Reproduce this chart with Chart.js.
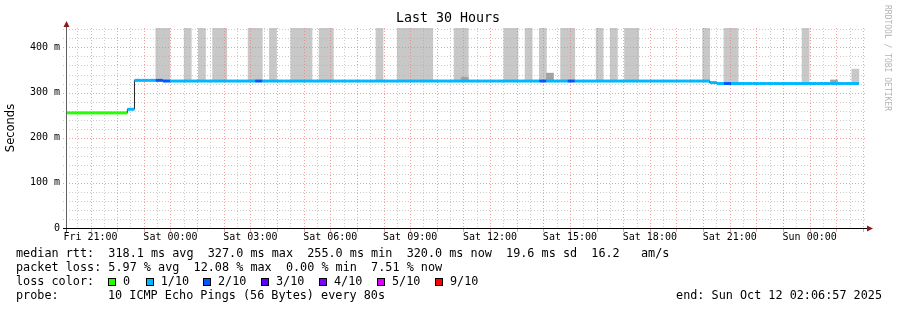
<!DOCTYPE html>
<html>
<head>
<meta charset="utf-8">
<title>Last 30 Hours</title>
<script src="https://cdn.jsdelivr.net/npm/chart.js@4.4.0/dist/chart.umd.min.js"></script>
<style>
  html, body { margin: 0; padding: 0; background: #fff; }
</style>
</head>
<body>
<canvas id="myChart" width="897" height="310"></canvas>
<script>
// x axis is in hours counted from Fri 00:00
const axisStart = 20 + 6 / 60 + 57 / 3600;   // Fri 20:06:57
const axisEnd = axisStart + 30;               // Sun 02:06:57
const binStart = 19.982;                      // first 16 min bin
const binHours = 16 / 60;

const labelHours = [21, 24, 27, 30, 33, 36, 39, 42, 45, 48];
const labelTexts = ['Fri 21:00', 'Sat 00:00', 'Sat 03:00', 'Sat 06:00', 'Sat 09:00',
                    'Sat 12:00', 'Sat 15:00', 'Sat 18:00', 'Sat 21:00', 'Sun 00:00'];

const yTicks = [0, 100, 200, 300, 400];
const yTickLabels = ['0', '100 m', '200 m', '300 m', '400 m'];

// median rtt per bin (ms)
const median = [
  255, 255, 255, 255, 255, 255, 255, 255, 255, 263, 327, 327, 327, 327, 325.5, 325.5,
  325.5, 325.5, 325.5, 325.5, 325.5, 325.5, 325.5, 325.5, 325.5, 325.5, 325.5, 325.5, 325.5, 325.5, 325.5, 325.5,
  325.5, 325.5, 325.5, 325.5, 325.5, 325.5, 325.5, 325.5, 325.5, 325.5, 325.5, 325.5, 325.5, 325.5, 325.5, 325.5,
  325.5, 325.5, 325.5, 325.5, 325.5, 325.5, 325.5, 325.5, 325.5, 325.5, 325.5, 325.5, 325.5, 325.5, 325.5, 325.5,
  325.5, 325.5, 325.5, 325.5, 325.5, 325.5, 325.5, 325.5, 325.5, 325.5, 325.5, 325.5, 325.5, 325.5, 325.5, 325.5,
  325.5, 325.5, 325.5, 325.5, 325.5, 325.5, 325.5, 325.5, 325.5, 325.5, 325.5, 322, 320, 320, 320, 320,
  320, 320, 320, 320, 320, 320, 320, 320, 320, 320, 320, 320, 320, 320, 320, 320
];

// lost pings (out of 10) per bin
const loss = [
  0, 0, 0, 0, 0, 0, 0, 0, 0, 1, 1, 1, 1, 2, 2, 1,
  1, 1, 1, 1, 1, 1, 1, 1, 1, 1, 1, 2, 1, 1, 1, 1,
  1, 1, 1, 1, 1, 1, 1, 1, 1, 1, 1, 1, 1, 1, 1, 1,
  1, 1, 1, 1, 1, 1, 1, 1, 1, 1, 1, 1, 1, 1, 1, 1,
  1, 1, 1, 2, 1, 1, 1, 2, 1, 1, 1, 1, 1, 1, 1, 1,
  1, 1, 1, 1, 1, 1, 1, 1, 1, 1, 1, 1, 1, 2, 1, 1,
  1, 1, 1, 1, 1, 1, 1, 1, 1, 1, 1, 1, 1, 1, 1, 1
];

// top of the light smoke per bin (ms), null = none
const smokeHigh = [
  null, null, null, null, null, null, null, null, null, null, null, null, null, 600, 600, null,
  null, 600, null, 600, null, 600, 600, null, null, null, 600, 600, null, 600, null, null,
  600, 600, 600, null, 600, 600, null, null, null, null, null, null, 600, null, null, 600,
  600, 600, 600, 600, null, null, null, 600, 600, null, null, null, null, null, 600, 600,
  null, 600, null, 600, null, null, 600, 600, null, null, null, 600, null, 600, null, 600,
  600, null, null, null, null, null, null, null, null, null, 600, null, null, 600, 600, null,
  null, null, null, null, null, null, null, null, 600, null, null, null, null, null, null, 352
];

// top of the dark smoke per bin (ms)
const smokeLow = [
  null, null, null, null, null, null, null, null, null, null, null, null, null, null, null, null,
  null, null, null, null, null, null, null, null, null, null, null, null, null, null, null, null,
  null, null, null, null, null, null, null, null, null, null, null, null, null, null, null, null,
  null, null, null, null, null, null, null, null, 334, null, null, null, null, null, null, null,
  null, null, null, null, 343, null, null, null, null, null, null, null, null, null, null, null,
  null, null, null, null, null, null, null, null, null, null, null, null, null, null, null, null,
  null, null, null, null, null, null, null, null, null, null, null, null, 328, null, null, null
];

const lossColors = ['#26ff00', '#00b8ff', '#0059ff', '#5e00ff', '#7e00ff',
                    '#dd00ff', '#dd00ff', '#dd00ff', '#dd00ff', '#ff0000', '#ff0000'];
const legendLabels = ['0', '1/10', '2/10', '3/10', '4/10', '5/10', '9/10'];
const legendColors = ['#26ff00', '#00b8ff', '#0059ff', '#5e00ff', '#7e00ff', '#dd00ff', '#ff0000'];

const majorGrid = 'rgba(240, 120, 120, 0.7)';
const minorGrid = 'rgba(170, 170, 170, 0.6)';
const mono = '"DejaVu Sans Mono", monospace';

// build chart data from the arrays
const lineData = [];
median.forEach(function (v, k) {
  lineData.push({ x: binStart + k * binHours, y: v });
  lineData.push({ x: binStart + (k + 1) * binHours, y: v });
});
const smokeHighData = median.map(function (v, k) {
  return { x: binStart + (k + 0.5) * binHours, y: smokeHigh[k] === null ? null : [v, smokeHigh[k]] };
});
const smokeLowData = median.map(function (v, k) {
  return { x: binStart + (k + 0.5) * binHours, y: smokeLow[k] === null ? null : [v, smokeLow[k]] };
});

let gridDone = false;
const rrdGrid = {
  id: 'rrdGrid',
  beforeDraw() { gridDone = false; },
  beforeDatasetDraw(chart, args) {
    if (gridDone || chart.data.datasets[args.index].type !== 'line') return;
    gridDone = true;
    const { ctx, chartArea: a, scales: { x, y } } = chart;
    ctx.save();
    ctx.lineWidth = 1;
    ctx.setLineDash([1, 2]);
    [false, true].forEach(function (major) {
      ctx.strokeStyle = major ? majorGrid : minorGrid;
      for (let v = 20; v < y.max; v += 20) {
        if ((v % 100 === 0) !== major) continue;
        const py = Math.round(y.getPixelForValue(v)) + 0.5;
        ctx.beginPath(); ctx.moveTo(a.left - 4, py); ctx.lineTo(a.right, py); ctx.stroke();
      }
      for (let h = Math.ceil(x.min * 2) / 2; h < x.max; h += 0.5) {
        if ((h % 1 === 0) !== major) continue;
        const px = Math.round(x.getPixelForValue(h)) + 0.5;
        ctx.beginPath(); ctx.moveTo(px, a.top); ctx.lineTo(px, a.bottom); ctx.stroke();
      }
    });
    // red hour ticks under the axis
    ctx.setLineDash([]);
    ctx.strokeStyle = majorGrid;
    for (let h = Math.ceil(x.min); h < x.max; h += 1) {
      const px = Math.round(x.getPixelForValue(h)) + 0.5;
      ctx.beginPath(); ctx.moveTo(px, a.bottom + 1); ctx.lineTo(px, a.bottom + 4); ctx.stroke();
    }
    ctx.restore();
  }
};

const rrdFrame = {
  id: 'rrdFrame',
  afterDatasetsDraw(chart) {
    const { ctx, chartArea: a } = chart;
    ctx.save();
    ctx.lineWidth = 1;
    // y axis
    ctx.strokeStyle = '#606060';
    ctx.beginPath(); ctx.moveTo(a.left - 0.5, a.bottom + 4); ctx.lineTo(a.left - 0.5, a.top - 3); ctx.stroke();
    // x axis
    ctx.strokeStyle = '#000';
    ctx.beginPath(); ctx.moveTo(a.left - 4, a.bottom + 0.5); ctx.lineTo(a.right + 2, a.bottom + 0.5); ctx.stroke();
    ctx.fillStyle = '#8b1a1a';
    ctx.beginPath();
    ctx.moveTo(a.left - 3.5, a.top - 1); ctx.lineTo(a.left - 0.5, a.top - 7); ctx.lineTo(a.left + 2.5, a.top - 1);
    ctx.closePath(); ctx.fill();
    ctx.beginPath();
    ctx.moveTo(a.right + 1, a.bottom - 2.5); ctx.lineTo(a.right + 7, a.bottom + 0.5); ctx.lineTo(a.right + 1, a.bottom + 3.5);
    ctx.closePath(); ctx.fill();
    ctx.restore();
  },
  afterDraw(chart) {
    const ctx = chart.ctx;
    ctx.save();
    ctx.fillStyle = '#000';
    ctx.textBaseline = 'middle';
    ctx.textAlign = 'center';
    ctx.font = '13.3px ' + mono;
    ctx.fillText('Last 30 Hours', 448, 19);

    ctx.textAlign = 'left';
    ctx.font = '11.8px ' + mono;
    ctx.fillText('median rtt:  318.1 ms avg  327.0 ms max  255.0 ms min  320.0 ms now  19.6 ms sd  16.2   am/s', 16, 254);
    ctx.fillText('packet loss: 5.97 % avg  12.08 % max  0.00 % min  7.51 % now', 16, 268);
    ctx.fillText('loss color:', 16, 282);
    const labelX = [123, 160.7, 218, 276, 334, 392, 450];
    legendLabels.forEach(function (t, i) {
      const bx = Math.round(labelX[i] - 15);
      ctx.fillStyle = legendColors[i];
      ctx.fillRect(bx, 278, 8, 8);
      ctx.strokeStyle = '#000';
      ctx.lineWidth = 1;
      ctx.strokeRect(bx + 0.5, 278.5, 7, 7);
      ctx.fillStyle = '#000';
      ctx.fillText(t, labelX[i], 282);
    });
    ctx.fillText('probe:', 16, 296);
    ctx.fillText('10 ICMP Echo Pings (56 Bytes) every 80s', 108, 296);
    ctx.textAlign = 'right';
    ctx.fillText('end: Sun Oct 12 02:06:57 2025', 882, 296);

    // watermark
    ctx.translate(887, 5);
    ctx.rotate(Math.PI / 2);
    ctx.textAlign = 'left';
    ctx.fillStyle = '#b4b4b4';
    ctx.font = '8px ' + mono;
    ctx.fillText('RRDTOOL / TOBI OETIKER', 0, 0);
    ctx.restore();
  }
};

new Chart(document.getElementById('myChart'), {
  type: 'bar',
  data: {
    datasets: [
      {
        type: 'bar', data: smokeHighData, backgroundColor: '#c8c8c8',
        grouped: false, barPercentage: 1, categoryPercentage: 1, order: 4, clip: 0
      },
      {
        type: 'bar', data: smokeLowData, backgroundColor: '#a2a2a2',
        grouped: false, barPercentage: 1, categoryPercentage: 1, order: 3, clip: 0
      },
      {
        type: 'line', data: lineData, borderColor: '#202020', borderWidth: 1,
        pointRadius: 0, order: 2, clip: 0
      },
      {
        type: 'line', data: lineData, borderColor: lossColors[1], borderWidth: 3,
        borderCapStyle: 'butt', pointRadius: 0, order: 1, clip: 0,
        segment: {
          borderColor: function (ctx) {
            return ctx.p0DataIndex % 2 ? 'rgba(0,0,0,0)' : lossColors[loss[ctx.p0DataIndex >> 1]];
          }
        }
      }
    ]
  },
  options: {
    responsive: false,
    animation: false,
    events: [],
    layout: { padding: { top: 28, right: 31, left: 0, bottom: 0 } },
    plugins: { legend: { display: false }, tooltip: { enabled: false }, title: { display: false } },
    scales: {
      x: {
        type: 'linear', min: axisStart, max: axisEnd, offset: false,
        grid: { display: false, drawTicks: false, offset: false },
        border: { display: false },
        afterBuildTicks: function (s) { s.ticks = labelHours.map(function (v) { return { value: v }; }); },
        afterFit: function (s) { s.height = 82; },
        ticks: {
          autoSkip: false, maxRotation: 0, padding: 3, color: '#000',
          font: { family: mono, size: 10 },
          callback: function (v, i) { return labelTexts[i]; }
        }
      },
      y: {
        type: 'linear', min: 0, max: 443,
        grid: { display: false, drawTicks: false },
        border: { display: false },
        afterBuildTicks: function (s) { s.ticks = yTicks.map(function (v) { return { value: v }; }); },
        afterFit: function (s) { s.width = 67; },
        ticks: {
          padding: 7, color: '#000',
          font: { family: mono, size: 10 },
          callback: function (v, i) { return yTickLabels[i]; }
        },
        title: {
          display: true, text: 'Seconds', color: '#000',
          font: { family: '"DejaVu Sans", sans-serif', size: 11.5 },
          padding: { top: 4, bottom: 0 }
        }
      }
    }
  },
  plugins: [rrdGrid, rrdFrame]
});
</script>
</body>
</html>
